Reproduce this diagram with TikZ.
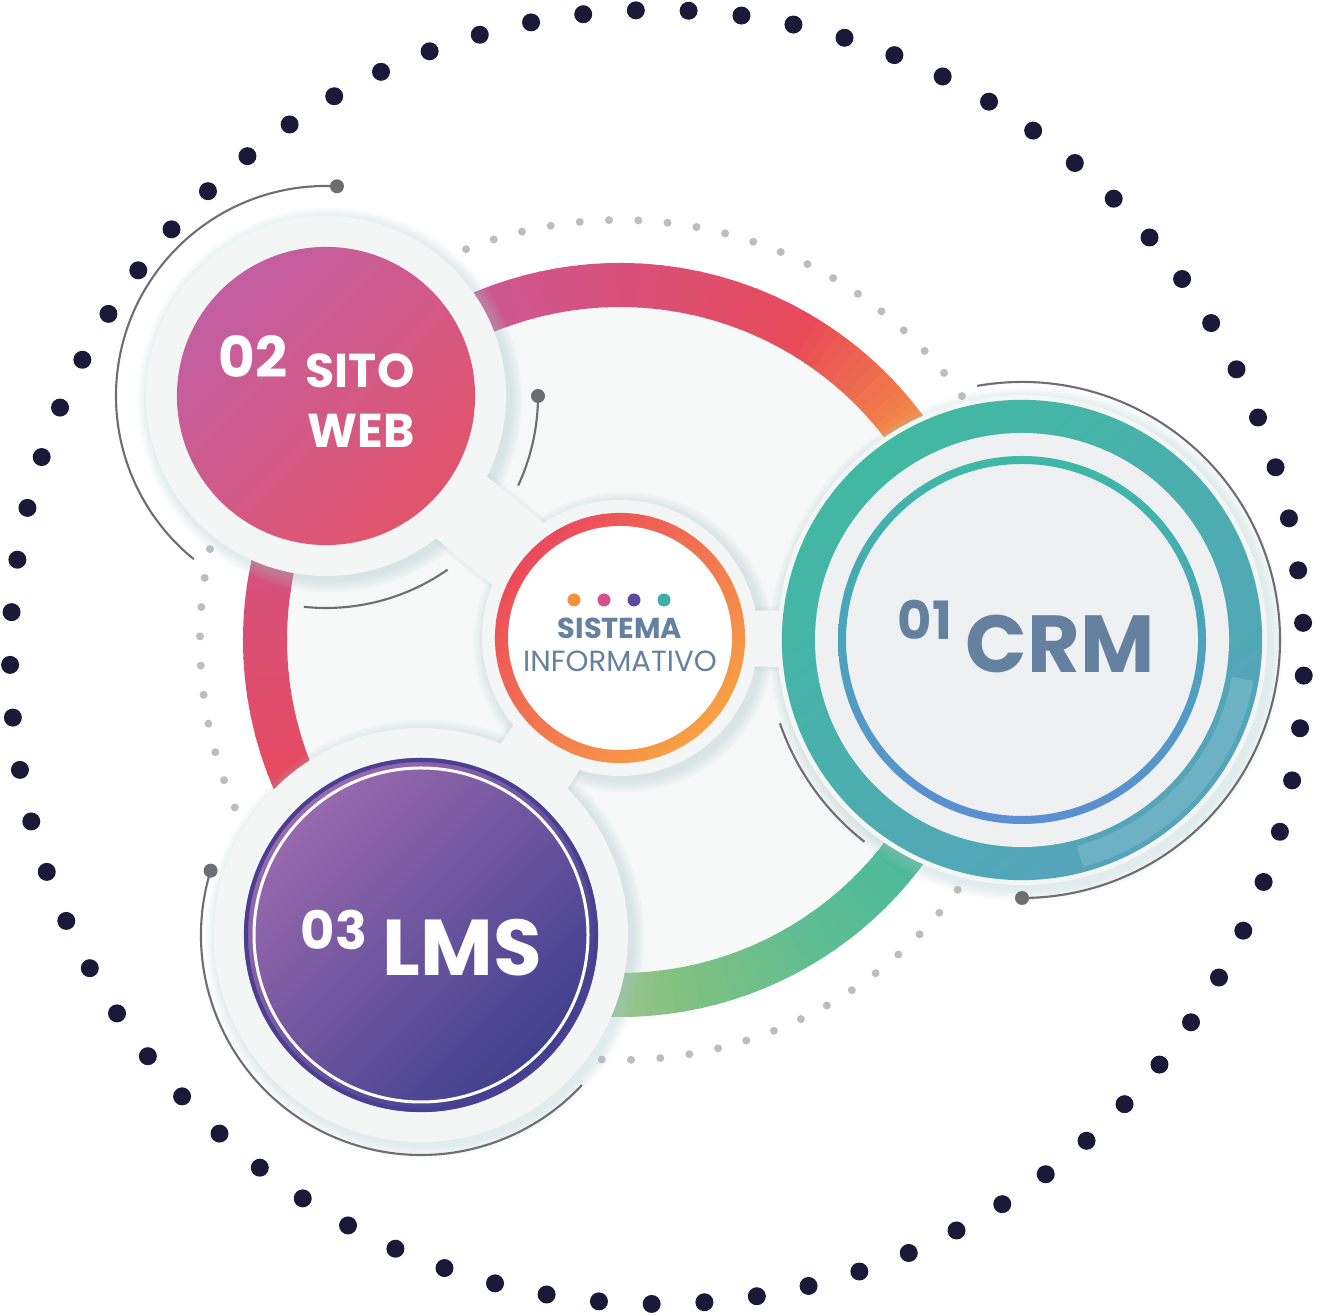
\documentclass[tikz,border=0pt]{standalone}
\usepackage{fontspec}
\setmainfont{Poppins}
\usepackage{tikz}
\usetikzlibrary{positioning}
\definecolor{navydot}{HTML}{1C1838}
\definecolor{greydot}{HTML}{BDBDC1}
\definecolor{slate}{HTML}{6581A0}
\definecolor{innerfill}{HTML}{F7F8F8}
\definecolor{halofill}{HTML}{F4F6F6}
\definecolor{haloshadow}{HTML}{A9C9C9}
\definecolor{arcgrey}{HTML}{6E6E72}
% ring colours
\definecolor{rmag}{HTML}{C65A9C}
\definecolor{rpink}{HTML}{CC5893}
\definecolor{rrose}{HTML}{D85079}
\definecolor{rred}{HTML}{E94B58}
\definecolor{rorange}{HTML}{F07A4A}
\definecolor{ryellow}{HTML}{F5A446}
\definecolor{rteal}{HTML}{42B8A3}
\definecolor{rteal2}{HTML}{45B99C}
\definecolor{rmint}{HTML}{5DBD93}
\definecolor{rgreen}{HTML}{83C17F}
\definecolor{rpale}{HTML}{A5C79A}
\definecolor{rred2}{HTML}{E84A5C}
\definecolor{rrose2}{HTML}{DA4F74}
% circle colours
\definecolor{webtop}{HTML}{C25FA2}
\definecolor{webbot}{HTML}{E2546C}
\definecolor{lmstop}{HTML}{9B6AAE}
\definecolor{lmsbot}{HTML}{3E3F8E}
\definecolor{lmsedge}{HTML}{4A3F92}
\definecolor{crmteal}{HTML}{41B9A2}
\definecolor{crmblue}{HTML}{56A3BC}
\definecolor{thinteal}{HTML}{3DB9A5}
\definecolor{thinblue}{HTML}{5B8ED2}
\definecolor{crmdisc}{HTML}{EEF0F2}
\definecolor{hubred}{HTML}{EC4A5B}
\definecolor{huborange}{HTML}{F7A144}
\definecolor{dotorange}{HTML}{F7923A}
\definecolor{dotpink}{HTML}{D2508C}
\definecolor{dotpurple}{HTML}{5A4AA0}
\definecolor{dotteal}{HTML}{3DAEAA}
\pgfdeclarelayer{back}
\pgfdeclarelayer{halo}
\pgfsetlayers{back,halo,main}

\begin{document}
\begin{tikzpicture}[x=0.01cm, y=0.01cm,
    webcircle/.style={circle, minimum size=2.98cm, inner sep=0, top color=webtop, bottom color=webbot, shading angle=45},
    lmscircle/.style={circle, minimum size=3.54cm, inner sep=0, top color=lmstop, bottom color=lmsbot, shading angle=45},
    crmcircle/.style={circle, minimum size=4.8cm, inner sep=0, top color=crmteal, bottom color=crmblue, shading angle=40},
    hubcircle/.style={circle, minimum size=2.5cm, inner sep=0, top color=hubred, bottom color=huborange, shading angle=45},
    ringseg/.style={line width=0.44cm},
    band/.style={draw=halofill},
    thinarc/.style={draw=arcgrey, line width=0.6pt},
    knob/.style={fill=arcgrey},
    bigtxt/.style={font=\bfseries\fontsize{22.5}{22.5}\selectfont, inner sep=0, anchor=base west},
    numtxt/.style={font=\bfseries\fontsize{15}{15}\selectfont, inner sep=0, anchor=base west},
    webtxt/.style={font=\bfseries\fontsize{13.5}{13.5}\selectfont, inner sep=0, anchor=base east, text=white},
    hubtxt/.style={font=\fontsize{8.3}{8.3}\selectfont, inner sep=0, anchor=base, text=slate}
]
\useasboundingbox (0,0) rectangle (1325,1316);
\coordinate (dotc) at (657,659);
\coordinate (ringc) at (620,676);

% the four circles
\node[webcircle] (web) at (326,920) {};
\node[crmcircle] (crm) at (1022,676) {};
\node[lmscircle] (lms) at (421,381) {};
\node[hubcircle] (hub) at (620,678) {};

\begin{pgfonlayer}{back}
% outer dotted ring
\foreach \k in {0,...,76}
    \fill[navydot] (dotc) ++({87.2+\k*4.675}:647) circle[radius=9];
% inner grey dots
\foreach \k in {0,...,89}
    \fill[greydot] (ringc) ++({3.5+\k*4}:420) circle[radius=4];
\fill[innerfill] (ringc) circle[radius=333];
% gradient ring
\foreach \sa/\ea/\ca/\cb in {140/115/rmag/rpink, 115/90/rpink/rrose, 90/60/rrose/rred,
    60/42/rred/rorange, 42/32/rorange/ryellow, 32/25/ryellow/rteal, 25/-30/rteal/rteal2,
    -30/-55/rteal2/rmint, -55/-80/rmint/rgreen, -80/-95/rgreen/rpale, -95/-150/rpale/rred2,
    -150/-180/rred2/rrose2, -180/-220/rrose2/rmag}{
  \foreach \i in {0,...,9}{
    \draw[ringseg, draw=\cb!\i0!\ca] (ringc) ++({\sa+(\ea-\sa)*\i/10}:355)
        arc[start angle={\sa+(\ea-\sa)*\i/10}, delta angle={(\ea-\sa)*0.115}, radius=355];
  }
}
\end{pgfonlayer}

\begin{pgfonlayer}{halo}
% soft shadows
\foreach \n/\r in {web/180, lms/207, crm/245, hub/138}
  \foreach \k in {1,...,6}
    \fill[haloshadow, opacity=0.07] ([shift={(4,-4)}]\n.center) circle[radius=\r+2*\k];
\foreach \n/\w in {web/0.88cm, lms/0.88cm, crm/0.64cm}
  \draw[haloshadow, opacity=0.15, line width=\w] (\n.center) -- (hub.center);
% halos and connectors
\foreach \n/\r in {web/180, lms/207, crm/245, hub/138}
  \fill[halofill] (\n.center) circle[radius=\r];
\draw[band, line width=0.8cm] (web.center) -- (hub.center);
\draw[band, line width=0.8cm] (lms.center) -- (hub.center);
\draw[band, line width=0.56cm] (crm.center) -- (hub.center);
\end{pgfonlayer}

% inner parts
\fill[crmdisc] (crm.center) circle[radius=207];
\shade[top color=thinteal, bottom color=thinblue, even odd rule] (crm.center) circle[radius=184] circle[radius=176];
\draw[white, opacity=0.15, line width=0.22cm] (crm.center) ++(-75:224) arc[start angle=-75, end angle=-10, radius=224];
\draw[lmsedge, line width=0.04cm] (lms.center) circle[radius=175];
\draw[white, line width=0.03cm] (lms.center) circle[radius=167];
\fill[white] (hub.center) circle[radius=112];

% thin arcs
\draw[thinarc] (web.center) ++(87:210) arc[start angle=87, end angle=231, radius=210];
\draw[thinarc] (web.center) ++(264:212) arc[start angle=264, end angle=305, radius=212];
\draw[thinarc] (web.center) ++(-25:212) arc[start angle=-25, end angle=0, radius=212];
\fill[knob] (web.center) ++(87:210) circle[radius=7];
\fill[knob] (web.center) ++(0:212) circle[radius=7];
\draw[thinarc] (crm.center) ++(100:258) arc[start angle=100, end angle=-90, radius=258];
\draw[thinarc] (crm.center) ++(199:256) arc[start angle=199, end angle=232, radius=256];
\fill[knob] (crm.center) ++(-90:258) circle[radius=7];
\draw[thinarc] (lms.center) ++(163:220) arc[start angle=163, end angle=317, radius=220];
\fill[knob] (lms.center) ++(163:220) circle[radius=7];

% labels
\node[numtxt, text=white, font=\bfseries\fontsize{16}{16}\selectfont] (web-num) at ([xshift=-1.08cm, yshift=0.18cm] web.center) {02};
\node[webtxt] (web-top) at ([xshift=0.89cm, yshift=0.08cm] web.center) {SITO};
\node[webtxt] (web-bot) at ([xshift=0.89cm, yshift=-0.51cm] web.center) {WEB};
\node[numtxt, text=slate] (crm-num) at ([xshift=-1.25cm] crm.center) {01};
\node[bigtxt, text=slate, font=\bfseries\fontsize{23}{23}\selectfont] (crm-txt) at ([xshift=-0.57cm, yshift=-0.32cm] crm.center) {CRM};
\node[numtxt, text=white] (lms-num) at ([xshift=-1.21cm, yshift=-0.15cm] lms.center) {03};
\node[bigtxt, text=white] (lms-txt) at ([xshift=-0.39cm, yshift=-0.40cm] lms.center) {LMS};
\foreach \c/\x in {dotorange/-0.46, dotpink/-0.16, dotpurple/0.14, dotteal/0.44}
  \fill[\c] ([xshift=\x cm, yshift=0.38cm] hub.center) circle[radius=6.5];
\node[hubtxt, font=\bfseries\fontsize{8.2}{8.2}\selectfont] (hub-top) at ([yshift=-0.01cm] hub.center) {SISTEMA};
\node[hubtxt] (hub-bot) at ([yshift=-0.33cm] hub.center) {INFORMATIVO};

\end{tikzpicture}
\end{document}
